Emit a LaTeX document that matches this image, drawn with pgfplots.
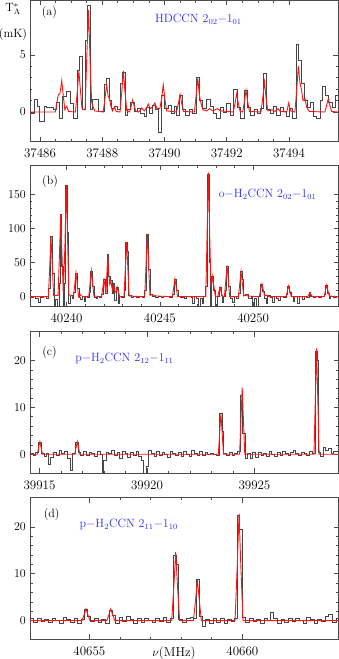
\documentclass[border=0pt]{standalone}
\usepackage{pgfplots}
\pgfplotsset{compat=1.18}
\definecolor{spec}{RGB}{70,70,70}
\definecolor{model}{RGB}{255,20,20}
\definecolor{lab}{RGB}{45,45,255}
% x data are written as offsets in MHz from a base frequency per panel
% (a) 37485, (b) 40238, (c) 39914, (d) 40653; tick labels give the true values
\pgfplotsset{
  panel/.style={
    scale only axis, width=308.5pt, height=141.5pt, anchor=south west,
    tick align=inside, major tick length=5pt, minor tick length=2.5pt,
    axis line style={black!70, line width=0.7pt},
    every tick/.style={black!70, line width=0.6pt},
    tick label style={font=\fontsize{13}{14}\selectfont},
    xticklabel style={yshift=-3pt},
    clip=true,
  },
  obs/.style={const plot, spec, line width=0.5pt, mark=none},
  mod/.style={model, line width=0.9pt, mark=none},
}
\begin{document}
\begin{tikzpicture}
\fontsize{12}{13}\selectfont

% (a) HDCCN
\begin{axis}[panel, at={(30pt,-141.7pt)},
    xmin=0.68, xmax=10.59, ymin=-2.6, ymax=9.8,
    xtick={1,3,5,7,9}, xticklabels={37486,37488,37490,37492,37494},
    minor x tick num=3, ytick={0,5}, minor y tick num=4]
  \addplot[obs] coordinates {
    (0.68,-0.1)(0.82,1.1)(0.91,0.5)(0.98,-0.85)(1.14,0.5)(1.21,0.4)(1.43,0.2)(1.51,0.9)
    (1.62,-0.55)(1.73,1.35)(1.84,1.85)(1.96,0.75)(2.07,-0.55)(2.20,3.7)(2.26,4.9)(2.37,0.2)
    (2.46,6.3)(2.52,9.4)(2.63,0.2)(2.69,1.15)(2.87,0.05)(3.06,2.4)(3.12,3.0)(3.21,1.05)
    (3.28,0.3)(3.39,0.5)(3.48,0.2)(3.59,2.5)(3.64,3.45)(3.73,-0.25)(3.81,0.25)(3.91,0.9)
    (4.02,0.05)(4.13,0.3)(4.23,-0.1)(4.34,-0.4)(4.43,0.4)(4.51,-0.1)(4.62,0.6)(4.70,0.2)
    (4.81,-1.8)(4.90,1.5)(5.00,0.3)(5.11,0.6)(5.22,-0.1)(5.30,0.5)(5.39,-0.25)(5.48,1.5)
    (5.56,0.2)(5.67,-0.25)(5.78,0.2)(5.88,-0.1)(6.01,3.05)(6.12,1.05)(6.20,0.3)(6.33,1.1)
    (6.46,0.5)(6.57,-0.1)(6.67,-0.55)(6.78,0.4)(6.89,-0.05)(7.00,0.75)(7.12,-0.25)(7.21,2.0)
    (7.34,0.4)(7.45,-0.55)(7.55,1.9)(7.66,0.45)(7.77,-0.25)(7.87,0.25)(7.98,-0.1)(8.09,0.3)
    (8.17,3.4)(8.28,0.2)(8.39,-0.1)(8.49,0.5)(8.60,-0.25)(8.71,0.45)(8.82,0.05)(8.92,-0.4)
    (9.01,0.3)(9.12,-0.55)(9.22,5.9)(9.31,4.55)(9.39,2.5)(9.48,1.05)(9.59,0.45)(9.67,0.9)
    (9.78,-0.4)(9.89,-0.55)(9.99,1.05)(10.06,2.3)(10.16,1.5)(10.27,0.9)(10.38,0.45)(10.48,1.5)
    (10.59,1.5)
  };
  \addplot[mod] coordinates {
    (0.68,0)(1.49,0)(1.54,0.75)(1.59,1.5)(1.64,1.6)(1.70,2.75)(1.75,1.4)(1.80,0.2)(1.86,0.5)(1.92,0.05)
    (2.14,0)(2.20,1.8)(2.25,3.6)(2.30,1.9)(2.35,0.3)(2.40,0.2)(2.45,0.2)(2.50,4.5)(2.56,8.95)(2.61,4.5)
    (2.66,0.9)(2.70,0.5)(2.76,0.1)
    (3.03,0)(3.09,1.2)(3.14,2.4)(3.19,1.4)(3.23,1.2)(3.28,0.5)(3.33,0.1)(3.39,0.45)(3.45,0.05)
    (3.57,0)(3.63,1.8)(3.68,3.6)(3.73,1.8)(3.79,0.1)
    (3.88,0)(3.93,0.5)(3.98,1.05)(4.03,0.5)(4.09,0.05)
    (4.17,0)(4.27,0.35)(4.35,0.1)(4.43,0.4)(4.48,0.7)(4.55,0.3)(4.63,0.5)(4.69,0.8)(4.76,0.3)
    (4.85,0.3)(4.91,1.2)(4.96,2.4)(5.01,1.2)(5.07,0.1)
    (5.39,0)(5.45,0.8)(5.50,1.55)(5.55,0.8)(5.61,0.05)
    (5.96,0)(6.02,1.5)(6.07,2.95)(6.12,1.5)(6.17,0.8)(6.23,0.2)(6.35,0.1)(6.45,0.3)(6.55,0.1)(6.70,0.3)(6.80,0.1)
    (7.21,0)(7.27,0.8)(7.32,1.6)(7.37,0.8)(7.43,0.05)
    (7.51,0)(7.57,0.95)(7.62,1.9)(7.67,0.95)(7.73,0.05)
    (8.10,0)(8.16,1.3)(8.21,2.65)(8.26,1.3)(8.32,0.1)(8.45,0.2)(8.55,0.05)(8.65,0.3)(8.72,0.05)
    (8.93,0)(8.99,0.8)(9.05,0.1)
    (9.19,0)(9.25,2.0)(9.30,4.05)(9.35,2.6)(9.40,2.0)(9.45,1.0)(9.51,1.2)(9.57,0.4)(9.65,0.05)
    (10.15,0)(10.21,0.6)(10.26,1.15)(10.31,0.6)(10.37,0.05)(10.59,0)
  };
  \node at (rel axis cs:0.063,0.915) {(a)};
  \node[lab] at (rel axis cs:0.546,0.866) {HDCCN $2_{02}{-}1_{01}$};
\end{axis}

% (b) o-H2CCN
\begin{axis}[panel, at={(30pt,-306.7pt)},
    xmin=0.045, xmax=16.57, ymin=-14.7, ymax=193,
    xtick={2,7,12}, xticklabels={40240,40245,40250},
    minor x tick num=4, ytick={0,50,100,150}, minor y tick num=4]
  \addplot[obs] coordinates {
    (0.045,-1)(0.2,1)(0.35,-2)(0.5,-8)(0.58,-1)(0.75,1)(0.9,-2)(1.02,13)(1.12,88)(1.22,35)
    (1.32,-3)(1.36,-14)(1.42,-4)(1.52,-15)(1.59,20)(1.64,121)(1.74,45)(1.80,-14)(1.88,20)
    (1.94,163)(2.04,95)(2.10,-9)(2.18,2)(2.30,-2)(2.38,6)(2.46,35)(2.56,12)(2.66,-1)(2.76,-4)
    (2.86,1)(2.94,-7)(3.02,1)(3.12,-1)(3.20,6)(3.28,38)(3.38,15)(3.48,-1)(3.58,-3)(3.66,1)
    (3.78,-1)(3.88,4)(3.96,26)(4.06,5)(4.16,62)(4.26,30)(4.33,24)(4.43,5)(4.48,19)(4.57,-5)
    (4.65,14)(4.75,-9)(4.83,1)(4.95,-1)(5.07,10)(5.17,80)(5.27,66)(5.32,2)(5.45,-1)(5.6,1)
    (5.75,-1)(5.9,1)(6.05,-1)(6.18,10)(6.28,92)(6.38,40)(6.48,3)(6.6,1)(6.75,-1)(6.9,1)
    (7.05,-1)(7.2,1)(7.35,0)(7.5,-1)(7.66,3)(7.76,26)(7.86,10)(7.96,0)(8.1,-1)(8.25,1)
    (8.33,-3)(8.42,0)(8.55,1)(8.7,-1)(8.76,-9)(8.84,0)(8.95,-2)(9.05,-14)(9.15,-2)(9.25,-10)
    (9.34,0)(9.45,15)(9.55,180)(9.65,50)(9.72,-15)(9.78,30)(9.88,10)(9.96,-12)(10.06,1)
    (10.17,14)(10.27,2)(10.33,-8)(10.41,0)(10.50,10)(10.56,45)(10.66,15)(10.76,-2)(10.9,-8)
    (10.98,1)(11.1,-2)(11.2,5)(11.30,37)(11.40,25)(11.48,2)(11.6,3)(11.75,-2)(11.9,1)
    (11.97,-14)(12.05,-3)(12.18,-15)(12.27,1)(12.40,18)(12.50,8)(12.58,-2)(12.68,-9)(12.76,2)
    (12.9,-1)(13.03,-8)(13.12,1)(13.25,-2)(13.36,-5)(13.45,1)(13.6,-1)(13.75,3)(13.85,16)
    (13.95,6)(14.05,0)(14.12,-6)(14.2,1)(14.38,-9)(14.46,1)(14.65,-4)(14.72,1)(14.85,-1)
    (14.98,6)(15.08,1)(15.2,-1)(15.35,1)(15.5,-1)(15.65,1)(15.78,3)(15.88,17)(15.98,5)
    (16.08,-3)(16.15,1)(16.3,-1)(16.45,1)(16.57,1)
  };
  \addplot[mod] coordinates {
    (0.045,0)(1.03,0)(1.10,44)(1.17,88)(1.24,44)(1.31,2)(1.55,2)(1.62,60)(1.69,120)(1.76,60)
    (1.83,3)(1.92,80)(1.99,163)(2.06,82)(2.13,3)(2.37,0)(2.44,17)(2.51,35)(2.58,17)(2.65,0)
    (2.75,3)(2.85,0)(3.19,0)(3.26,19)(3.33,38)(3.40,19)(3.47,1)(3.87,0)(3.94,12)(4.01,25)
    (4.08,12)(4.12,8)(4.21,61)(4.28,30)(4.32,18)(4.38,23)(4.45,10)(4.53,18)(4.60,8)(4.66,6)
    (4.72,14)(4.79,6)(4.86,0)(5.08,0)(5.15,40)(5.22,80)(5.29,40)(5.36,1)(6.19,0)(6.26,46)
    (6.33,92)(6.40,46)(6.47,2)(6.60,3)(6.80,1)(7.67,0)(7.74,13)(7.81,26)(7.88,13)(7.95,0)
    (9.46,0)(9.53,90)(9.60,182)(9.67,92)(9.74,15)(9.76,15)(9.83,30)(9.90,14)(9.97,1)
    (10.10,0)(10.16,7)(10.22,14)(10.28,7)(10.35,0)(10.46,0)(10.53,23)(10.60,46)(10.67,23)
    (10.74,0)(11.21,0)(11.28,19)(11.35,37)(11.42,19)(11.49,1)(11.60,3)(11.70,1)(12.33,0)
    (12.40,10)(12.47,19)(12.54,10)(12.61,2)(12.75,2)(12.85,0)(13.76,0)(13.83,8)(13.90,16)
    (13.97,8)(14.04,0)(14.92,0)(14.98,3)(15.04,6)(15.10,3)(15.17,0)(15.80,0)(15.87,9)
    (15.94,17)(16.01,8)(16.08,1)(16.57,0)
  };
  \node at (rel axis cs:0.065,0.887) {(b)};
  \node[lab] at (rel axis cs:0.77,0.795) {o$-$H$_2$CCN $2_{02}{-}1_{01}$};
\end{axis}

% (c) p-H2CCN 2_12-1_11
\begin{axis}[panel, at={(30pt,-473.3pt)},
    xmin=0.56, xmax=14.91, ymin=-4.07, ymax=26.15,
    xtick={1,6,11}, xticklabels={39915,39920,39925},
    minor x tick num=4, ytick={0,10,20}, minor y tick num=4]
  \addplot[obs] coordinates {
    (0.56,0.3)(0.70,-0.2)(0.82,0.5)(0.95,2.6)(1.08,0.2)(1.20,-0.5)(1.30,0.3)(1.42,-2.2)
    (1.52,-0.6)(1.65,0.4)(1.78,-0.3)(1.90,0.8)(2.02,0.3)(2.15,0.6)(2.28,-0.8)(2.42,-3.5)
    (2.52,0.2)(2.68,2.5)(2.80,0.4)(2.92,-0.3)(3.05,0.6)(3.18,-0.2)(3.30,0.5)(3.42,0.2)
    (3.55,-0.4)(3.68,0.6)(3.82,0.1)(3.90,-3.8)(3.98,-1.2)(4.10,0.5)(4.22,0.2)(4.35,0.8)
    (4.48,-0.3)(4.60,0.4)(4.72,-0.8)(4.85,0.6)(4.98,0.2)(5.10,-0.6)(5.22,0.5)(5.35,-0.2)
    (5.48,0.7)(5.60,-0.4)(5.72,-1.2)(5.85,-4.5)(5.98,-2.5)(6.08,0.9)(6.20,0.3)(6.32,-0.4)
    (6.45,0.6)(6.58,-0.2)(6.70,0.5)(6.82,0.0)(6.95,-0.6)(7.08,0.7)(7.20,0.2)(7.32,-0.3)
    (7.45,0.5)(7.58,-0.5)(7.70,0.6)(7.82,0.1)(7.95,-0.4)(8.08,0.8)(8.20,0.2)(8.32,-0.3)
    (8.45,0.6)(8.58,-0.2)(8.70,0.4)(8.82,-0.1)(8.95,0.3)(9.08,0.1)(9.22,-0.2)(9.36,8.7)
    (9.48,5.0)(9.56,0.2)(9.70,-0.3)(9.82,0.5)(9.95,-0.2)(10.08,0.3)(10.22,0.6)(10.35,12.5)
    (10.45,4.5)(10.55,-0.8)(10.68,0.3)(10.80,-0.9)(10.92,0.4)(11.05,-0.6)(11.18,0.5)
    (11.30,-0.2)(11.42,0.3)(11.55,-0.5)(11.68,0.6)(11.80,0.1)(11.92,-0.4)(12.05,0.5)
    (12.18,-0.3)(12.30,0.7)(12.42,0.2)(12.55,-0.2)(12.68,0.4)(12.80,0.9)(12.92,0.3)
    (13.05,-0.2)(13.18,0.5)(13.30,0.2)(13.42,-0.3)(13.55,0.6)(13.70,0.2)(13.82,22.0)
    (13.90,20.0)(13.98,0.5)(14.08,-0.5)(14.18,1.5)(14.30,0.8)(14.42,1.3)(14.55,0.2)
    (14.68,0.6)(14.91,0.6)
  };
  \addplot[mod] coordinates {
    (0.56,0)(0.90,0)(0.96,1.35)(1.02,2.7)(1.08,1.35)(1.14,0)(2.64,0)(2.70,1.35)(2.76,2.7)
    (2.82,1.35)(2.88,0)(9.32,0)(9.38,4.4)(9.44,8.7)(9.50,4.4)(9.56,0)(10.31,0)(10.37,7.1)
    (10.43,14.2)(10.49,7.1)(10.55,0)(13.77,0)(13.83,11.3)(13.89,22.6)(13.95,11.3)(14.01,0)
    (14.91,0)
  };
  \node at (rel axis cs:0.063,0.853) {(c)};
  \node[lab] at (rel axis cs:0.306,0.81) {p$-$H$_2$CCN $2_{12}{-}1_{11}$};
\end{axis}

% (d) p-H2CCN 2_11-1_10
\begin{axis}[panel, at={(30pt,-639.3pt)},
    xmin=0.06, xmax=10.14, ymin=-4.0, ymax=26.2,
    xtick={2,7}, xticklabels={40655,40660},
    minor x tick num=4, ytick={0,10,20}, minor y tick num=4]
  \addplot[obs] coordinates {
    (0.06,0.4)(0.18,-0.3)(0.30,0.6)(0.42,-0.2)(0.54,0.3)(0.66,-0.4)(0.78,0.5)(0.90,0.0)
    (1.02,-0.5)(1.14,0.7)(1.26,0.3)(1.38,-0.3)(1.50,0.4)(1.62,-0.6)(1.74,0.3)(1.84,2.4)
    (1.94,1.0)(2.04,-0.2)(2.16,0.5)(2.28,-0.4)(2.40,0.3)(2.52,-0.5)(2.64,2.3)(2.74,1.2)
    (2.84,-0.5)(2.96,0.8)(3.08,-0.2)(3.20,0.9)(3.32,0.2)(3.44,-0.5)(3.56,0.6)(3.68,-0.3)
    (3.80,0.5)(3.92,0.0)(4.04,-0.4)(4.16,0.4)(4.28,-0.2)(4.40,0.7)(4.52,-0.3)(4.64,0.5)
    (4.74,14.0)(4.84,12.0)(4.92,0.3)(5.04,-0.3)(5.16,0.5)(5.28,0.8)(5.40,0.4)(5.48,8.8)
    (5.60,1.0)(5.68,-1.2)(5.80,0.3)(5.92,-0.5)(6.04,0.6)(6.16,-0.3)(6.28,0.5)(6.40,-0.6)
    (6.52,0.3)(6.64,-0.2)(6.72,0.6)(6.82,22.5)(6.91,19.5)(6.99,0.8)(7.10,-0.3)(7.22,0.5)
    (7.34,-0.2)(7.46,0.3)(7.58,-0.5)(7.70,0.4)(7.82,0.1)(7.92,1.8)(8.02,0.5)(8.14,-0.6)
    (8.26,0.3)(8.38,-0.4)(8.50,0.4)(8.62,-0.2)(8.74,0.6)(8.86,0.1)(8.98,-0.5)(9.10,0.7)
    (9.22,0.2)(9.34,-0.6)(9.46,0.3)(9.58,-0.2)(9.70,0.9)(9.82,1.3)(9.94,-0.3)(10.06,0.4)
    (10.14,0.4)
  };
  \addplot[mod] coordinates {
    (0.06,0)(1.76,0)(1.83,1.25)(1.89,2.5)(1.95,1.25)(2.02,0)(2.57,0)(2.64,1.25)(2.70,2.5)
    (2.76,1.25)(2.83,0)(4.69,0)(4.76,7.3)(4.82,14.6)(4.88,7.3)(4.95,0)(5.40,0)(5.47,4.4)
    (5.53,8.7)(5.59,4.4)(5.66,0)(6.76,0)(6.83,11.4)(6.89,22.8)(6.95,11.4)(7.02,0)(10.14,0)
  };
  \node at (rel axis cs:0.07,0.882) {(d)};
  \node[lab] at (rel axis cs:0.32,0.81) {p$-$H$_2$CCN $2_{11}{-}1_{10}$};
\end{axis}

% y-axis unit label and frequency label
\node at (13pt,-9pt) {T$^*_{\mathrm{A}}$};
\node at (13pt,-35pt) {(mK)};
\node[anchor=base, font=\fontsize{13}{14}\selectfont] at (174pt,-656pt) {$\nu$(MHz)};

\pgfresetboundingbox
\path[use as bounding box] (0,0) rectangle (339pt,-659pt);
\end{tikzpicture}
\end{document}
